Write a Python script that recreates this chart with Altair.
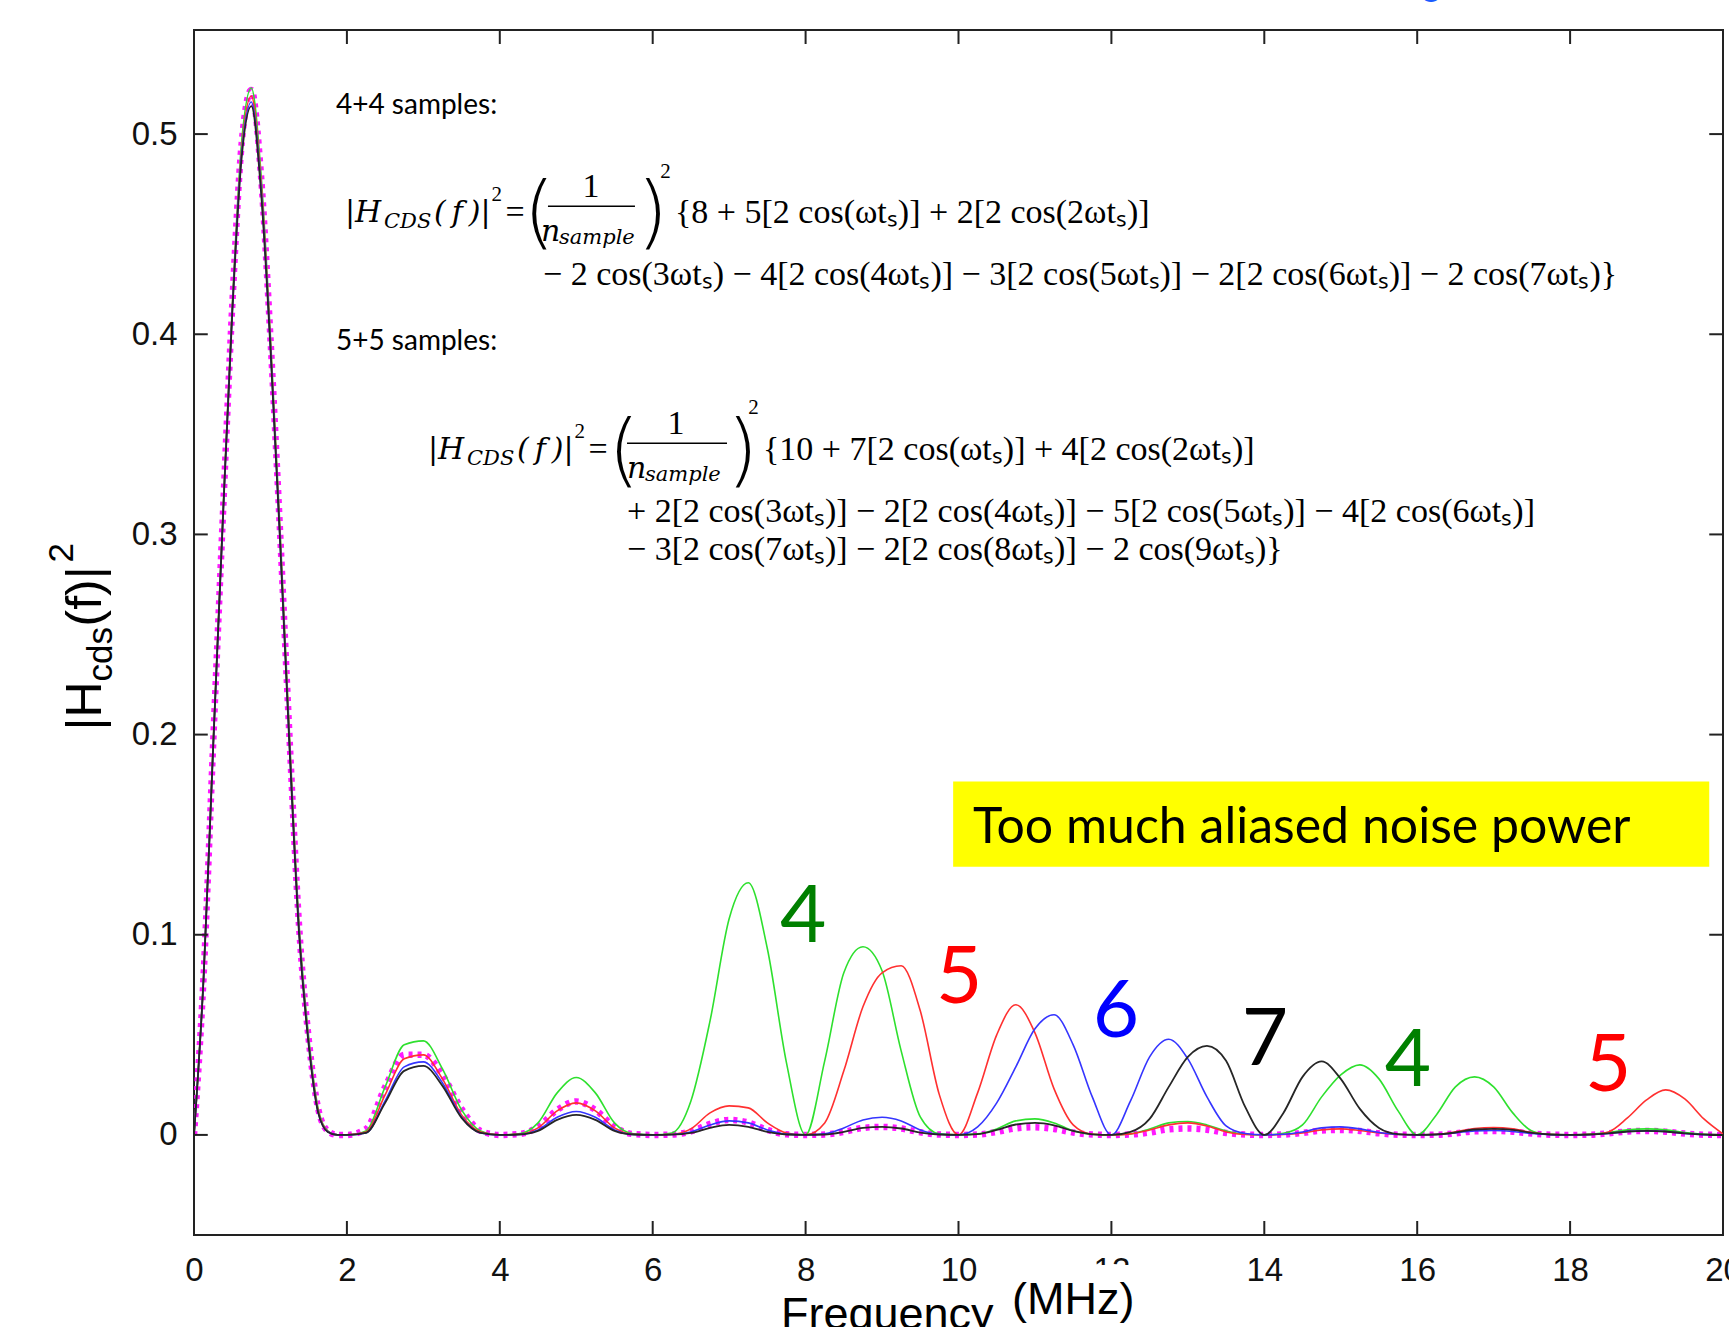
import altair as alt
import pandas as pd

# ---------------- data ----------------
MAIN_F = [0, 0.125, 0.25, 0.375, 0.5, 0.625, 0.75, 0.875, 1.0, 1.125, 1.25, 1.375,
          1.5, 1.625, 1.75, 1.875]
REST_F = [2.0, 2.25, 2.5, 2.75, 3.0, 3.25, 3.5, 3.75,
          4.0, 4.25, 4.5, 4.75, 5.0, 5.25, 5.5, 5.75,
          6.0, 6.25, 6.5, 6.75, 7.0, 7.25, 7.5, 7.75,
          8.0, 8.25, 8.5, 8.75, 9.0, 9.25, 9.5, 9.75,
          10.0, 10.25, 10.5, 10.75, 11.0, 11.25, 11.5, 11.75,
          12.0, 12.25, 12.5, 12.75, 13.0, 13.25, 13.5, 13.75,
          14.0, 14.25, 14.5, 14.75, 15.0, 15.25, 15.5, 15.75,
          16.0, 16.25, 16.5, 16.75, 17.0, 17.25, 17.5, 17.75,
          18.0, 18.25, 18.5, 18.75, 19.0, 19.25, 19.5, 19.75,
          20.0]

MAGENTA_MAIN = [0, 0.079, 0.195, 0.307, 0.414, 0.496, 0.522, 0.480, 0.398, 0.302, 0.198, 0.104, 0.048, 0.013, 0.002, 0]
GREEN_MAIN = [0, 0.079, 0.195, 0.307, 0.414, 0.497, 0.523, 0.481, 0.399, 0.303, 0.199, 0.105, 0.049, 0.013, 0.002, 0]
RED_MAIN = [0, 0.078, 0.194, 0.306, 0.412, 0.493, 0.519, 0.477, 0.396, 0.300, 0.196, 0.102, 0.047, 0.012, 0.0018, 0]
BLUE_MAIN = [0, 0.078, 0.193, 0.305, 0.411, 0.491, 0.516, 0.474, 0.394, 0.298, 0.194, 0.101, 0.046, 0.011, 0.0016, 0]
BLACK_MAIN = [0, 0.078, 0.193, 0.305, 0.410, 0.489, 0.514, 0.472, 0.393, 0.297, 0.193, 0.100, 0.045, 0.011, 0.0015, 0]

MAGENTA_REST = [0, 0.003, 0.024, 0.040, 0.040, 0.030, 0.013, 0.002,
                0, 0.0004, 0.004, 0.0125, 0.0167, 0.0125, 0.004, 0.0004,
                0, 0.0002, 0.0018, 0.0055, 0.0075, 0.0062, 0.0025, 0.0003,
                0, 0.0002, 0.0015, 0.0035, 0.004, 0.0032, 0.0013, 0.0002,
                0, 0.0002, 0.0015, 0.0033, 0.0038, 0.003, 0.0012, 0.0002,
                0, 0.0002, 0.0012, 0.0028, 0.0032, 0.0026, 0.001, 0.0002,
                0, 0.0002, 0.001, 0.0022, 0.0025, 0.002, 0.0008, 0.0001,
                0, 0.0001, 0.0008, 0.0018, 0.002, 0.0016, 0.0007, 0.0001,
                0, 0.0001, 0.0008, 0.0017, 0.002, 0.0016, 0.0007, 0.0001,
                0]
GREEN_REST = [0, 0.002, 0.024, 0.045, 0.047, 0.033, 0.0125, 0.002,
              0, 0.0005, 0.006, 0.021, 0.0287, 0.021, 0.006, 0.0005,
              0, 0.001, 0.017, 0.057, 0.108, 0.126, 0.093, 0.036,
              0, 0.037, 0.081, 0.094, 0.082, 0.042, 0.009, 0.0005,
              0, 0.0005, 0.003, 0.007, 0.008, 0.006, 0.002, 0.0003,
              0, 0.0005, 0.003, 0.006, 0.0067, 0.005, 0.002, 0.0003,
              0, 0.0008, 0.005, 0.019, 0.030, 0.035, 0.028, 0.012,
              0, 0.010, 0.024, 0.029, 0.024, 0.011, 0.002, 0.0002,
              0, 0.0003, 0.0012, 0.0025, 0.003, 0.0025, 0.0012, 0.0003,
              0]
RED_REST = [0, 0.0015, 0.020, 0.038, 0.040, 0.028, 0.010, 0.0015,
            0, 0.0003, 0.0035, 0.012, 0.016, 0.012, 0.0035, 0.0003,
            0, 0.0003, 0.003, 0.011, 0.0145, 0.0135, 0.006, 0.001,
            0, 0.006, 0.032, 0.064, 0.081, 0.0845, 0.062, 0.020,
            0, 0.021, 0.050, 0.065, 0.051, 0.023, 0.005, 0.0003,
            0, 0.0005, 0.0025, 0.005, 0.006, 0.0045, 0.0015, 0.0002,
            0, 0.0002, 0.001, 0.0025, 0.003, 0.0022, 0.001, 0.0002,
            0, 0.0003, 0.0015, 0.0032, 0.0037, 0.003, 0.0012, 0.0002,
            0, 0.0002, 0.0015, 0.0085, 0.0175, 0.0225, 0.018, 0.008,
            0.0005]
BLUE_REST = [0, 0.001, 0.017, 0.034, 0.0365, 0.026, 0.009, 0.001,
             0, 0.0002, 0.0025, 0.0088, 0.0117, 0.0088, 0.0025, 0.0002,
             0, 0.0002, 0.0015, 0.005, 0.007, 0.006, 0.0025, 0.0004,
             0, 0.0005, 0.0035, 0.0075, 0.0088, 0.007, 0.0025, 0.0003,
             0, 0.004, 0.016, 0.034, 0.053, 0.060, 0.045, 0.019,
             0, 0.017, 0.039, 0.0478, 0.038, 0.019, 0.0045, 0.0007,
             0, 0.0003, 0.0015, 0.0035, 0.004, 0.003, 0.0012, 0.0002,
             0, 0.0002, 0.001, 0.002, 0.0022, 0.0017, 0.0007, 0.0001,
             0, 0.0001, 0.0007, 0.0017, 0.002, 0.0017, 0.0007, 0.0001,
             0]
BLACK_REST = [0, 0.001, 0.016, 0.032, 0.0345, 0.0245, 0.0085, 0.001,
              0, 0.0002, 0.002, 0.0075, 0.010, 0.0075, 0.002, 0.0002,
              0, 0.0001, 0.001, 0.0035, 0.005, 0.004, 0.0015, 0.0002,
              0, 0.0002, 0.0015, 0.0035, 0.004, 0.0032, 0.0012, 0.0002,
              0, 0.0004, 0.0025, 0.0052, 0.006, 0.0048, 0.002, 0.0003,
              0, 0.0015, 0.008, 0.024, 0.039, 0.0445, 0.037, 0.014,
              0, 0.011, 0.029, 0.0367, 0.028, 0.013, 0.0035, 0.0004,
              0, 0.0002, 0.0012, 0.0027, 0.003, 0.0025, 0.001, 0.0002,
              0, 0.0002, 0.0008, 0.0017, 0.002, 0.0017, 0.0008, 0.0002,
              0]

X_TICKS = [0, 2, 4, 6, 8, 10, 12, 14, 16, 18, 20]
Y_TICKS = [0, 0.1, 0.2, 0.3, 0.4, 0.5]
X_DOMAIN = [0, 20]
Y_DOMAIN = [-0.05, 0.552]

PEAK_LABELS = ["4", "5", "6", "7", "4", "5"]
PEAK_LABEL_F = [7.97, 10.01, 12.06, 14.01, 15.88, 18.5]
PEAK_LABEL_V = [0.1085, 0.078, 0.061, 0.047, 0.0365, 0.034]
PEAK_LABEL_COLORS = ["#008000", "#ff0000", "#0000ff", "#000000", "#008000", "#ff0000"]

BOX_TEXT = "Too much aliased noise power"

E1_L1 = "{8 + 5[2 cos(ωtₛ)] + 2[2 cos(2ωtₛ)]"
E1_L2 = "−  2 cos(3ωtₛ) − 4[2 cos(4ωtₛ)] − 3[2 cos(5ωtₛ)] − 2[2 cos(6ωtₛ)] −  2 cos(7ωtₛ)}"
E2_L1 = "{10 + 7[2 cos(ωtₛ)] +  4[2 cos(2ωtₛ)]"
E2_L2 = "+ 2[2 cos(3ωtₛ)] − 2[2 cos(4ωtₛ)] − 5[2 cos(5ωtₛ)]  − 4[2 cos(6ωtₛ)]"
E2_L3 = "− 3[2 cos(7ωtₛ)] − 2[2 cos(8ωtₛ)] −  2 cos(9ωtₛ)}"

# ---------------- chart ----------------
SANS = "Liberation Sans"
SERIF = "Liberation Serif"
MATH = "DejaVu Serif"
CAL = "Lato"
EQ = 34

xs = alt.Scale(domain=X_DOMAIN, nice=False, zero=False)
ys = alt.Scale(domain=Y_DOMAIN, nice=False, zero=False)
X = alt.X("f:Q", scale=xs, axis=alt.Axis(values=X_TICKS, ticks=False, tickSize=0, domain=False, grid=False,
                                         labelFont=SANS, labelFontSize=33, labelColor="#111",
                                         labelPadding=19, labelFlush=False, labelOverlap=False, title=None))
Y = alt.Y("v:Q", scale=ys, axis=alt.Axis(values=Y_TICKS, format=".1~f", ticks=False, tickSize=0, domain=False,
                                         grid=False, labelFont=SANS, labelFontSize=33, labelColor="#111",
                                         labelPadding=17, labelFlush=False, labelOverlap=False, title=None))
X2 = alt.X2("f2:Q")
Y2 = alt.Y2("v2:Q")

layers = []

# yellow box
box_df = pd.DataFrame({"f": [9.93], "f2": [19.82], "v": [0.134], "v2": [0.1765]})
layers.append(alt.Chart(box_df).mark_rect(color="#ffff00").encode(x=X, x2=X2, y=Y, y2=Y2))

# curves
series = [
    ("magenta", MAGENTA_MAIN, MAGENTA_REST),
    ("green", GREEN_MAIN, GREEN_REST),
    ("red", RED_MAIN, RED_REST),
    ("blue", BLUE_MAIN, BLUE_REST),
    ("black", BLACK_MAIN, BLACK_REST),
]
styles = {
    "magenta": dict(color="#ff00ff", strokeWidth=6.5, strokeDash=[4, 5], opacity=0.9),
    "green": dict(color="#2ee02e", strokeWidth=1.6),
    "red": dict(color="#ff3030", strokeWidth=1.6),
    "blue": dict(color="#3535ff", strokeWidth=1.6),
    "black": dict(color="#262626", strokeWidth=1.8),
}
for name, main_v, rest_v in series:
    d = pd.DataFrame({"f": MAIN_F + REST_F, "v": main_v + rest_v})
    layers.append(alt.Chart(d).mark_line(interpolate="monotone", clip=True, **styles[name]).encode(x=X, y=Y))

# inward ticks on all four sides
tb = pd.DataFrame({"f": X_TICKS, "v": [Y_DOMAIN[0]] * len(X_TICKS), "v2": [Y_DOMAIN[0] + 0.007] * len(X_TICKS)})
tt = pd.DataFrame({"f": X_TICKS, "v": [Y_DOMAIN[1]] * len(X_TICKS), "v2": [Y_DOMAIN[1] - 0.007] * len(X_TICKS)})
tl = pd.DataFrame({"v": Y_TICKS, "f": [0] * len(Y_TICKS), "f2": [0.18] * len(Y_TICKS)})
tr = pd.DataFrame({"v": Y_TICKS, "f": [20] * len(Y_TICKS), "f2": [19.82] * len(Y_TICKS)})
for d, vert in [(tb, True), (tt, True), (tl, False), (tr, False)]:
    if vert:
        enc = dict(x=X, y=Y, y2=Y2)
    else:
        enc = dict(x=X, x2=X2, y=Y)
    layers.append(alt.Chart(d).mark_rule(color="#222", strokeWidth=2).encode(**enc))


def txt(text, f, v, size, font=SERIF, italic=False, align="left", baseline="middle",
        color="black", angle=0, weight="normal"):
    d = pd.DataFrame({"f": [f], "v": [v], "t": [text]})
    kw = dict(font=font, fontSize=size, align=align, baseline=baseline, color=color,
              fontWeight=weight)
    if italic:
        kw["fontStyle"] = "italic"
    if angle:
        kw["angle"] = angle
    return alt.Chart(d).mark_text(**kw).encode(x=X, y=Y, text="t:N")


def bar(f1, f2, v):
    d = pd.DataFrame({"f": [f1], "f2": [f2], "v": [v]})
    return alt.Chart(d).mark_rule(color="black", strokeWidth=1.5).encode(x=X, x2=X2, y=Y)


PAREN = dict(font="DejaVu Sans", weight=200)
FX = "(\u2009f\u2009)|"

# partial blue glyph peeking in at the top edge
layers.append(txt("o", 16.18, 0.566, 40, font=CAL, align="center", baseline="alphabetic", color="#1a5cff"))

# headings
layers.append(txt("4+4 samples:", 1.857, 0.514, 28, font=CAL))
layers.append(txt("5+5 samples:", 1.857, 0.396, 28, font=CAL))

# equation 1
layers += [
    txt("|H", 1.975, 0.4605, 30, font=MATH, italic=True),
    txt("CDS", 2.485, 0.456, 21, font=MATH, italic=True),
    txt(FX, 3.139, 0.4605, 30, font=MATH, italic=True),
    txt("2", 3.89, 0.4695, 21),
    txt("=", 4.075, 0.4605, EQ),
    txt("(", 4.31, 0.4595, 80, **PAREN),
    txt("1", 5.193, 0.4735, EQ, align="center"),
    bar(4.63, 5.768, 0.464),
    txt("n", 4.539, 0.451, 30, font=MATH, italic=True),
    txt("sample", 4.774, 0.448, 21, font=MATH, italic=True),
    txt(")", 5.795, 0.4595, 80, **PAREN),
    txt("2", 6.10, 0.481, 21),
    txt(E1_L1, 6.292, 0.4605, EQ),
    txt(E1_L2, 4.565, 0.4295, EQ),
]
# equation 2
layers += [
    txt("|H", 3.061, 0.342, 30, font=MATH, italic=True),
    txt("CDS", 3.571, 0.3375, 21, font=MATH, italic=True),
    txt(FX, 4.225, 0.342, 30, font=MATH, italic=True),
    txt("2", 4.976, 0.351, 21),
    txt("=", 5.16, 0.342, EQ),
    txt("(", 5.42, 0.3405, 80, **PAREN),
    txt("1", 6.305, 0.355, EQ, align="center"),
    bar(5.664, 6.972, 0.3455),
    txt("n", 5.664, 0.3325, 30, font=MATH, italic=True),
    txt("sample", 5.899, 0.3295, 21, font=MATH, italic=True),
    txt(")", 6.972, 0.3405, 80, **PAREN),
    txt("2", 7.25, 0.363, 21),
    txt(E2_L1, 7.443, 0.342, EQ),
    txt(E2_L2, 5.664, 0.311, EQ),
    txt(E2_L3, 5.664, 0.292, EQ),
]

# yellow box text
layers.append(txt(BOX_TEXT, 10.19, 0.1535, 50, font=CAL))

# big peak labels
lab_df = pd.DataFrame({"f": PEAK_LABEL_F, "v": PEAK_LABEL_V, "t": PEAK_LABELS, "c": PEAK_LABEL_COLORS})
layers.append(alt.Chart(lab_df).mark_text(font=CAL, fontSize=80, align="center", baseline="middle").encode(
    x=X, y=Y, text="t:N", color=alt.Color("c:N", scale=None)))

# y-axis title |H_cds(f)|^2 (rotated)
layers += [
    txt("|H", -1.2165, 0.202, 50, font=SANS, baseline="alphabetic", angle=270),
    txt("cds", -1.0726, 0.2265, 35, font=SANS, baseline="alphabetic", angle=270),
    txt("(f)|", -1.2165, 0.254, 50, font=SANS, baseline="alphabetic", angle=270),
    txt("2", -1.583, 0.286, 35, font=SANS, baseline="alphabetic", angle=270),
]

# x-axis title (cut off at the bottom of the picture)
cover = pd.DataFrame({"f": [10.61], "f2": [12.31], "v": [-0.065], "v2": [-0.1]})
layers.append(alt.Chart(cover).mark_rect(color="white").encode(x=X, x2=X2, y=Y, y2=Y2))
layers.append(txt("Frequency", 7.678, -0.097, 45, font=SANS, baseline="alphabetic"))
layers.append(txt("(MHz)", 10.70, -0.0895, 45, font=SANS, baseline="alphabetic"))

chart = alt.layer(*layers).properties(
    width=1529, height=1205,
    autosize=alt.AutoSizeParams(type="none"),
    padding={"left": 194, "top": 30, "right": 6, "bottom": 92},
    background="white",
).configure_view(stroke="#222", strokeWidth=2)

chart.save("out.html", embed_options={"renderer": "svg", "actions": False})
